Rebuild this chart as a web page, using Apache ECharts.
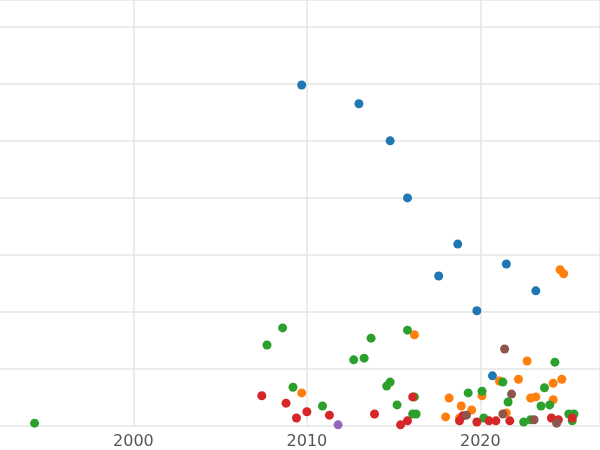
<!DOCTYPE html>
<html><head><meta charset="utf-8">
<script src="https://cdn.jsdelivr.net/npm/echarts@6/dist/echarts.min.js"></script>
<style>html,body{margin:0;background:#fff;overflow:hidden;width:600px;height:450px}#chart{width:640px;height:450px;margin-left:-40px}</style>
</head><body><div id="chart"></div>
<script>
// [year, value] pairs per group
const blue = [[2009.7,5.98],[2013.0,5.65],[2014.8,5.0],[2015.8,4.0],[2018.7,3.19],[2017.6,2.63],[2021.5,2.84],[2023.2,2.37],[2019.8,2.02],[2020.7,0.88]];
const orange = [[2024.6,2.74],[2024.8,2.67],[2016.2,1.6],[2022.7,1.14],[2009.7,0.58],[2018.2,0.49],[2020.1,0.53],[2022.2,0.82],[2024.7,0.82],[2024.2,0.75],[2021.1,0.79],[2022.9,0.49],[2023.2,0.51],[2024.2,0.46],[2018.9,0.35],[2019.5,0.28],[2021.5,0.23],[2018.0,0.16],[2018.8,0.14]];
const green = [[1994.3,0.05],[2008.6,1.72],[2007.7,1.42],[2013.7,1.54],[2015.8,1.68],[2013.3,1.19],[2012.7,1.16],[2014.8,0.77],[2014.6,0.70],[2009.2,0.68],[2016.2,0.51],[2015.2,0.37],[2010.9,0.35],[2019.3,0.58],[2020.1,0.61],[2024.3,1.12],[2023.7,0.67],[2021.3,0.77],[2023.5,0.35],[2024.0,0.37],[2021.6,0.42],[2016.1,0.21],[2016.3,0.21],[2020.2,0.14],[2022.5,0.07],[2025.1,0.21],[2025.4,0.21],[2025.3,0.09],[2022.9,0.11]];
const red = [[2007.4,0.53],[2008.8,0.40],[2010.0,0.25],[2009.4,0.14],[2011.3,0.19],[2013.9,0.21],[2016.1,0.51],[2015.8,0.09],[2015.4,0.02],[2018.8,0.09],[2019.8,0.07],[2020.5,0.09],[2020.9,0.09],[2021.7,0.09],[2024.1,0.14],[2024.5,0.11],[2025.3,0.14],[2019.0,0.18]];
const purple = [[2011.8,0.02]];
const brown = [[2021.4,1.35],[2021.8,0.56],[2021.3,0.21],[2019.2,0.19],[2023.1,0.11],[2024.4,0.05]];

const colors = ['#1f77b4','#ff7f0e','#2ca02c','#d62728','#9467bd','#8c564b'];
const groups = [blue, orange, green, red, purple, brown];

const chart = echarts.init(document.getElementById('chart'));
chart.setOption({
  animation: false,
  grid: { left: 0, right: 0, top: 0, bottom: 24 },
  xAxis: {
    type: 'value', min: 1990, max: 2026.9, interval: 10,
    axisLine: { show: false }, axisTick: { show: false },
    axisLabel: { color: '#555', fontSize: 16, fontFamily: 'DejaVu Sans', showMaxLabel: false, showMinLabel: false, formatter: v => String(v) },
    splitLine: { lineStyle: { color: '#e6e6e6', width: 1.5 } }
  },
  yAxis: {
    type: 'value', min: 0, max: 7.47, interval: 1,
    axisLine: { show: false }, axisTick: { show: false }, axisLabel: { show: false },
    splitLine: { lineStyle: { color: '#e6e6e6', width: 1.5 } }
  },
  series: groups.map((d, i) => ({
    type: 'scatter', data: d, symbolSize: 9, clip: true,
    itemStyle: { color: colors[i], opacity: 1 }
  }))
});
</script></body></html>
